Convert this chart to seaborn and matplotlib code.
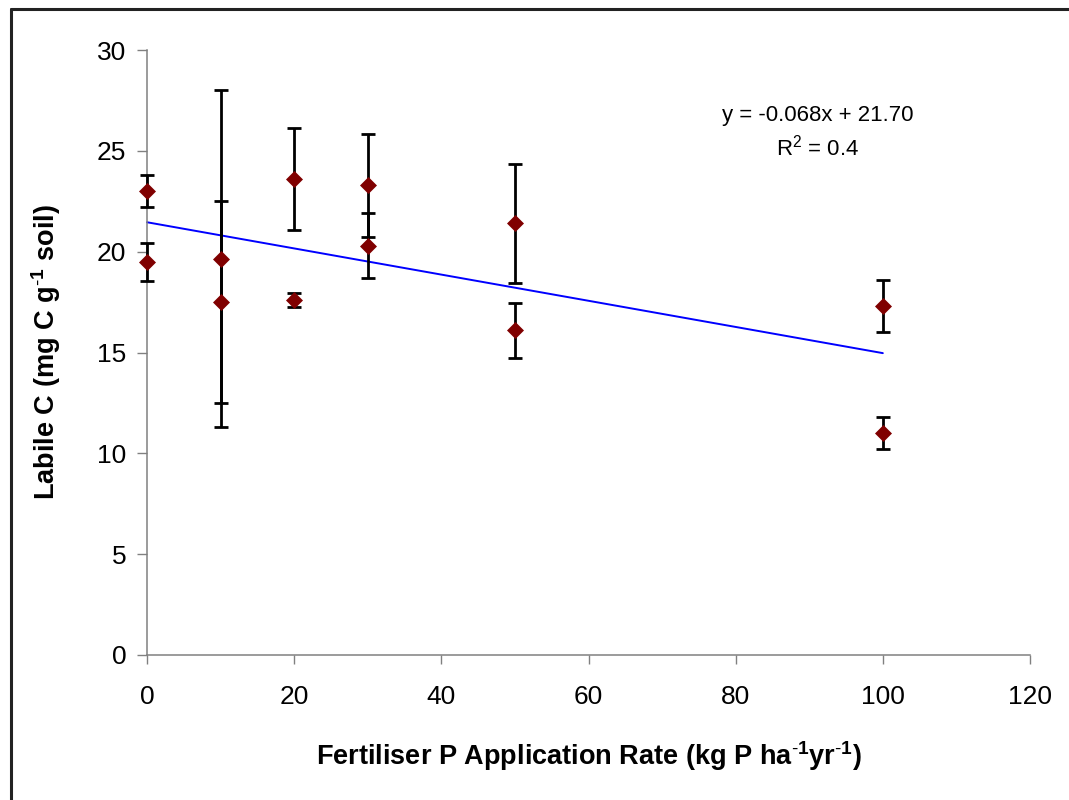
import numpy as np
import pandas as pd
import seaborn as sns
import matplotlib
matplotlib.use("Agg")
import matplotlib.pyplot as plt
from matplotlib.lines import Line2D

# ---- data ----
p_rate = [0, 0, 10, 10, 20, 20, 30, 30, 50, 50, 100, 100]
labile_c = [23.0, 19.5, 19.65, 17.5, 23.6, 17.6, 23.3, 20.3, 21.4, 16.1, 17.3, 11.0]
labile_err = [0.8, 0.95, 8.35, 5.0, 2.55, 0.35, 2.55, 1.6, 2.95, 1.35, 1.3, 0.8]
x_ticks = [0, 20, 40, 60, 80, 100, 120]
y_ticks = [0, 5, 10, 15, 20, 25, 30]
equation_text = "y = -0.068x + 21.70"
r2_text = "R$^2$ = 0.4"

df = pd.DataFrame({"rate": p_rate, "c": labile_c, "err": labile_err})

sns.set_theme(style="white")
plt.rcParams["font.family"] = ["Liberation Sans", "DejaVu Sans"]
plt.rcParams["mathtext.fontset"] = "custom"
plt.rcParams["mathtext.rm"] = "Liberation Sans"
plt.rcParams["mathtext.it"] = "Liberation Sans:italic"
plt.rcParams["mathtext.bf"] = "Liberation Sans:bold"
plt.rcParams["text.color"] = "black"
plt.rcParams["axes.labelcolor"] = "black"

fig = plt.figure(figsize=(10.69, 8.0), dpi=100)
ax = fig.add_axes([147 / 1069, 1 - 655 / 800, (1030 - 147) / 1069, (655 - 50) / 800])

# regression line
sns.regplot(data=df, x="rate", y="c", scatter=False, ci=None, truncate=True,
            ax=ax, line_kws=dict(color="#0000FF", lw=1.4, zorder=2))

# error bars
ax.errorbar(df["rate"], df["c"], yerr=df["err"], fmt="none", ecolor="black",
            elinewidth=2.0, capsize=5.3, capthick=2.0, zorder=3)

# points
sns.scatterplot(data=df, x="rate", y="c", marker="D", s=75, color="#800000",
                edgecolor="#800000", linewidth=0, ax=ax, zorder=4)

ax.set_xlim(0, 120)
ax.set_ylim(0, 30)
ax.set_xticks(x_ticks)
ax.set_yticks(y_ticks)
ax.set_xticklabels([str(v) for v in x_ticks])
ax.set_yticklabels([str(v) for v in y_ticks])
for c in ax.get_children():
    try:
        c.set_clip_on(False)
    except Exception:
        pass

for s in ["top", "right"]:
    ax.spines[s].set_visible(False)
for s in ["left", "bottom"]:
    ax.spines[s].set_color("#808080")
    ax.spines[s].set_linewidth(1.1)

ax.tick_params(axis="y", direction="out", length=7, width=1.0, color="#808080",
               labelsize=19, pad=8, left=True, labelcolor="black")
ax.tick_params(axis="x", direction="out", length=6.5, width=1.0, color="#808080",
               labelsize=19, pad=15, bottom=True, labelcolor="black")

ax.set_xlabel(r"Fertiliser P Application Rate (kg P ha$^{\mathbf{\text{-}1}}$yr$^{\mathbf{\text{-}1}}$)",
              fontsize=19.5, fontweight="bold", labelpad=22, color="black")
ax.set_ylabel(r"Labile C (mg C g$^{\mathbf{\text{-}1}}$ soil)",
              fontsize=19.5, fontweight="bold", labelpad=24, color="black")

ax.text(818 / 1069, 1 - 115 / 800, equation_text, transform=fig.transFigure,
        ha="center", va="center", fontsize=16, color="black")
ax.text(818 / 1069, 1 - 148 / 800, r2_text, transform=fig.transFigure,
        ha="center", va="center", fontsize=16, color="black")

ax.set_facecolor("white")
fig.patch.set_facecolor("white")

# outer chart-area border (left and top edges visible)
fig.add_artist(Line2D([11 / 1069, 11 / 1069], [0, 1 - 8.5 / 800],
                      transform=fig.transFigure, color="#222222", lw=2.2))
fig.add_artist(Line2D([11 / 1069, 1], [1 - 8.5 / 800, 1 - 8.5 / 800],
                      transform=fig.transFigure, color="#222222", lw=2.2))

fig.savefig("out.png", dpi=100, facecolor="white")
